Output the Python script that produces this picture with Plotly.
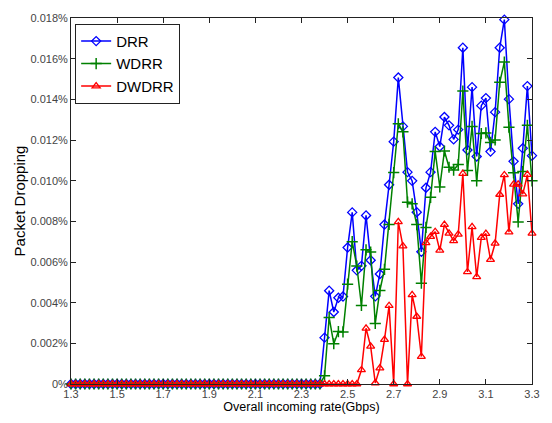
import plotly.graph_objects as go

# Overall incoming rate (Gbps), sampled every 0.02 Gbps from 1.30 to 3.30
rate_gbps = [round(1.30 + 0.02 * i, 2) for i in range(101)]

# Packet dropping ratio, in percent
drr = [
    0, 0, 0, 0, 0, 0, 0, 0, 0, 0, 0,
    0, 0, 0, 0, 0, 0, 0, 0, 0, 0, 0,
    0, 0, 0, 0, 0, 0, 0, 0, 0, 0, 0,
    0, 0, 0, 0, 0, 0, 0, 0, 0, 0, 0,
    0, 0, 0, 0, 0, 0, 0, 0, 0, 0, 0,
    0.00228, 0.00459, 0.00354, 0.00424, 0.00430, 0.00671, 0.00844, 0.00559, 0.00581, 0.00829,
    0.00609, 0.00431, 0.00541, 0.00784, 0.00980, 0.01192, 0.01507, 0.01267, 0.01042, 0.00999,
    0.00845, 0.00650, 0.00965, 0.01042, 0.01240, 0.01168, 0.01313, 0.01272, 0.01203, 0.01251,
    0.01654, 0.01151, 0.01460, 0.01119, 0.01369, 0.01406, 0.01143, 0.01337, 0.01654, 0.01792,
    0.01401, 0.01095, 0.00886, 0.01159, 0.01465, 0.01123,
]

wdrr = [
    0, 0, 0, 0, 0, 0, 0, 0, 0, 0, 0,
    0, 0, 0, 0, 0, 0, 0, 0, 0, 0, 0,
    0, 0, 0, 0, 0, 0, 0, 0, 0, 0, 0,
    0, 0, 0, 0, 0, 0, 0, 0, 0, 0, 0,
    0, 0, 0, 0, 0, 0, 0, 0, 0, 0, 0,
    0.00040, 0.00327, 0.00198, 0.00258, 0.00256, 0.00491, 0.00700, 0.00580, 0.00386, 0.00660,
    0.00649, 0.00298, 0.00460, 0.00564, 0.00785, 0.01040, 0.01280, 0.01240, 0.00894, 0.00886,
    0.00784, 0.00496, 0.00770, 0.00918, 0.01143, 0.00969, 0.01146, 0.01066, 0.01052, 0.01079,
    0.01441, 0.01050, 0.01267, 0.00999, 0.01232, 0.01235, 0.01188, 0.01200, 0.01484, 0.01583,
    0.01263, 0.01039, 0.00797, 0.01045, 0.01272, 0.00999,
]

dwdrr = [
    0, 0, 0, 0, 0, 0, 0, 0, 0, 0, 0,
    0, 0, 0, 0, 0, 0, 0, 0, 0, 0, 0,
    0, 0, 0, 0, 0, 0, 0, 0, 0, 0, 0,
    0, 0, 0, 0, 0, 0, 0, 0, 0, 0, 0,
    0, 0, 0, 0, 0, 0, 0, 0, 0, 0, 0,
    0, 0, 0, 0, 0, 0, 0, 0,
    0.00069, 0.00274, 0.00185, 0.00005, 0.00078, 0.00218, 0.00385, 0, 0.00797, 0.00678,
    0, 0.00438, 0.00332, 0.00135, 0.00694, 0.00725, 0.00749, 0.00657, 0.00784, 0.00741,
    0.00704, 0.00736, 0.01035, 0.00551, 0.00773, 0.00527, 0.00720, 0.00740, 0.00612, 0.00692,
    0.00932, 0.01028, 0.00747, 0.00982, 0.00982, 0.00934, 0.01030, 0.00741,
]

x_ticks = [1.3, 1.5, 1.7, 1.9, 2.1, 2.3, 2.5, 2.7, 2.9, 3.1, 3.3]
x_tick_text = ["1.3", "1.5", "1.7", "1.9", "2.1", "2.3", "2.5", "2.7", "2.9", "3.1", "3.3"]
y_ticks = [0, 0.002, 0.004, 0.006, 0.008, 0.010, 0.012, 0.014, 0.016, 0.018]
y_tick_text = ["0%", "0.002%", "0.004%", "0.006%", "0.008%", "0.010%",
               "0.012%", "0.014%", "0.016%", "0.018%"]

FONT = "Liberation Sans, Arial, sans-serif"

fig = go.Figure()
fig.add_trace(go.Scatter(
    x=rate_gbps, y=drr, name="DRR", mode="lines+markers", cliponaxis=False,
    line=dict(color="#0000ff", width=1.5),
    marker=dict(symbol="diamond-open", size=7, color="#0000ff", line=dict(width=1.3)),
))
fig.add_trace(go.Scatter(
    x=rate_gbps, y=wdrr, name="WDRR", mode="lines+markers", cliponaxis=False,
    line=dict(color="#008000", width=1.5),
    marker=dict(symbol="cross-thin-open", size=8, color="#008000", line=dict(width=1.5, color="#008000")),
))
fig.add_trace(go.Scatter(
    x=rate_gbps, y=dwdrr, name="DWDRR", mode="lines+markers", cliponaxis=False,
    line=dict(color="#ff0000", width=1.5),
    marker=dict(symbol="triangle-up-open", size=7, color="#ff0000", line=dict(width=1.3)),
))

axis_common = dict(
    showline=True, linecolor="#222222", linewidth=1, mirror="ticks",
    ticks="inside", ticklen=5, tickcolor="#222222", showgrid=False, zeroline=False,
    tickfont=dict(family=FONT, size=11, color="#444444"),
)

fig.update_layout(
    width=552, height=423,
    margin=dict(l=71, r=12, t=13, b=38),
    paper_bgcolor="white", plot_bgcolor="white",
    font=dict(family=FONT, color="black"),
    xaxis=dict(
        range=[1.3, 3.3], tickvals=x_ticks, ticktext=x_tick_text,
        title=dict(text="Overall incoming rate(Gbps)", font=dict(family=FONT, size=12.5), standoff=2),
        **axis_common,
    ),
    yaxis=dict(
        range=[0, 0.018], tickvals=y_ticks, ticktext=y_tick_text,
        title=dict(text="Packet Dropping", font=dict(family=FONT, size=15), standoff=1),
        **axis_common,
    ),
    legend=dict(
        x=0.009, y=0.984, xanchor="left", yanchor="top",
        bgcolor="white", bordercolor="#222222", borderwidth=1,
        font=dict(family=FONT, size=15, color="black"),
        tracegroupgap=0, itemwidth=30,
    ),
    showlegend=True,
)

fig.write_html("out.html")
